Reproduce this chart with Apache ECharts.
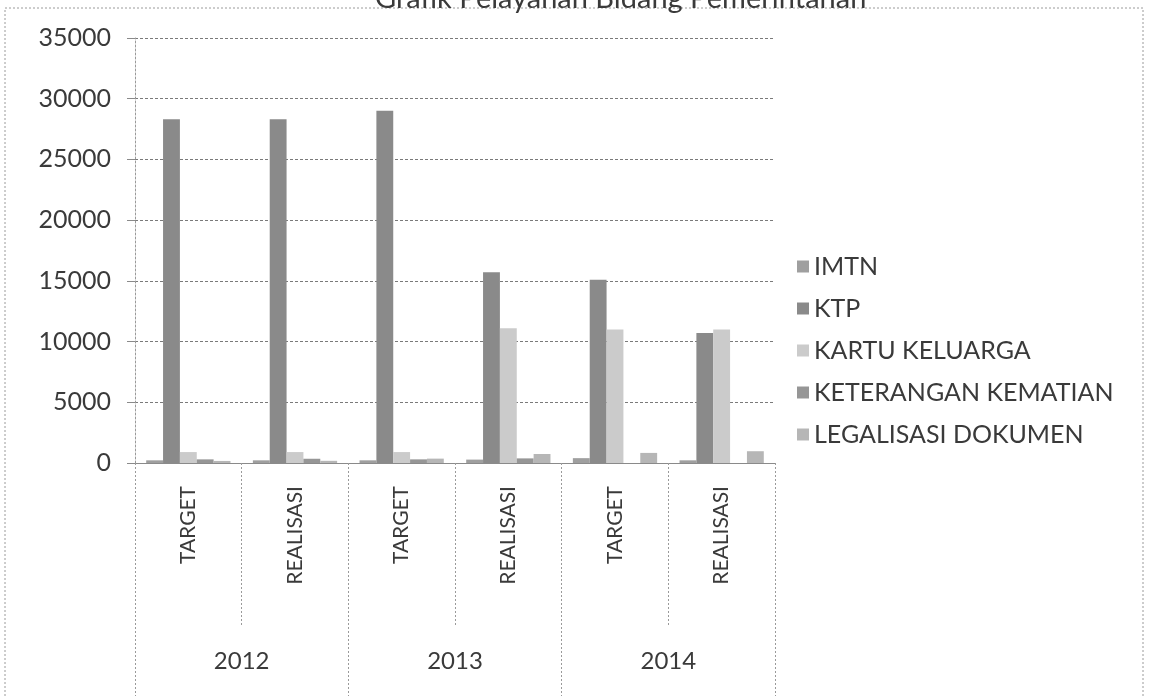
<!DOCTYPE html>
<html>
<head>
<meta charset="utf-8">
<title>Grafik Pelayanan</title>
<script src="https://cdn.jsdelivr.net/npm/echarts@6/dist/echarts.min.js"></script>
<style>
html,body{margin:0;padding:0;background:#fff;}
#chart1{width:1151px;height:696px;}
</style>
</head>
<body>
<div id="chart1"></div>
<script>
// data grafik
var kategori=['TARGET','REALISASI','TARGET','REALISASI','TARGET','REALISASI'];
var tahun=['2012','2013','2014'];
var namaSeri=['IMTN','KTP','KARTU KELUARGA','KETERANGAN KEMATIAN','LEGALISASI DOKUMEN'];
var imtn=[220,220,220,280,400,220];
var ktp=[28300,28300,29000,15700,15100,10700];
var kartuKeluarga=[900,900,900,11100,11000,11000];
var ketKematian=[300,350,300,380,0,0];
var legalisasi=[170,180,360,740,830,970];
var warna=['#9f9f9f','#8a8a8a','#cbcbcb','#969696','#b6b6b6'];

window.onload=function(){
	var myChart1=echarts.init(document.getElementById('chart1'));
	var huruf='Lato, "Open Sans", sans-serif';
	var nilai=[imtn,ktp,kartuKeluarga,ketKematian,legalisasi];
	var series=[];
	for(var i=0;i<namaSeri.length;i++){
		series.push({
			name:namaSeri[i],
			type:'bar',
			xAxisIndex:0,
			barGap:'0%',
			barCategoryGap:'21%',
			itemStyle:{color:warna[i]},
			data:nilai[i]
		});
	}
	var option1={
		animation:false,
		color:warna,
		title:{
			text:'Grafik Pelayanan Bidang Pemerintahan',
			left:370,
			top:-21,
			textStyle:{fontFamily:huruf,fontSize:29,fontWeight:'normal',color:'#3a3a3a'}
		},
		graphic:[{
			type:'rect',
			shape:{x:5,y:8,width:1138,height:720},
			style:{fill:'none',stroke:'#9a9a9a',lineWidth:1,lineDash:[2,2]}
		}],
		legend:{
			data:namaSeri,
			orient:'vertical',
			left:792,
			top:249,
			itemGap:17,
			itemWidth:12,
			itemHeight:12,
			icon:'rect',
			textStyle:{fontFamily:huruf,fontSize:25,color:'#3a3a3a'}
		},
		grid:{left:135,right:376,top:38,bottom:233},
		xAxis:[{
			type:'category',
			data:kategori,
			axisLine:{lineStyle:{color:'#8a8a8a'}},
			axisTick:{show:true,interval:0,length:162,lineStyle:{color:'#9a9a9a',type:[2,2]}},
			axisLabel:{interval:0,rotate:90,margin:23,fontFamily:huruf,fontSize:21,color:'#3a3a3a'}
		},{
			type:'category',
			data:tahun,
			position:'bottom',
			axisLine:{show:false},
			axisTick:{show:true,interval:0,length:240,lineStyle:{color:'#9a9a9a',type:[2,2]}},
			axisLabel:{interval:0,margin:186,fontFamily:huruf,fontSize:24,color:'#3a3a3a'}
		}],
		yAxis:{
			type:'value',
			min:0,
			max:35000,
			interval:5000,
			axisLine:{show:true,lineStyle:{color:'#9a9a9a',type:[2,2]}},
			axisTick:{show:true,length:8,lineStyle:{color:'#8a8a8a'}},
			splitLine:{lineStyle:{color:'#7a7a7a',type:[3,2]}},
			axisLabel:{
				margin:24,fontFamily:huruf,fontSize:25,color:'#3a3a3a',
				formatter:function(v){return String(v);}
			}
		},
		series:series
	};
	myChart1.setOption(option1);
};
</script>
</body>
</html>
